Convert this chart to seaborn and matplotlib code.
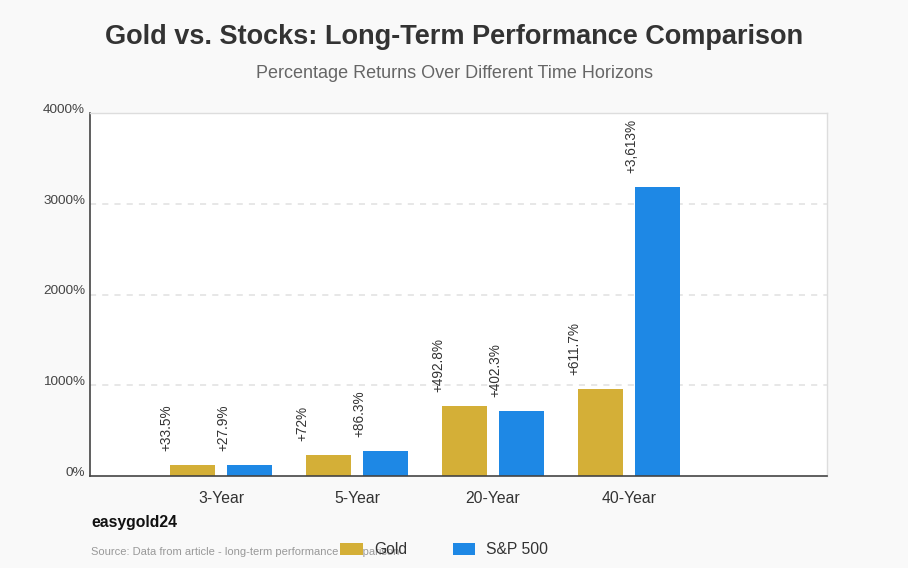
import matplotlib
matplotlib.use("Agg")
import matplotlib.pyplot as plt
import matplotlib.transforms as mtransforms
import seaborn as sns
import pandas as pd

# ---- data ----
periods = ["3-Year", "5-Year", "20-Year", "40-Year"]
series_names = ["Gold", "S&P 500"]
gold_bar = [120, 230, 770, 960]
sp_bar = [120, 275, 715, 3185]
gold_labels = ["+33.5%", "+72%", "+492.8%", "+611.7%"]
sp_labels = ["+27.9%", "+86.3%", "+402.3%", "+3,613%"]
y_ticks = [0, 1000, 2000, 3000, 4000]
y_tick_labels = ["0%", "1000%", "2000%", "3000%", "4000%"]
colors = ["#D4AF37", "#1E88E5"]

df = pd.DataFrame({
    "period": periods * 2,
    "series": [series_names[0]] * 4 + [series_names[1]] * 4,
    "value": gold_bar + sp_bar,
})

sns.set_theme(style="white")
plt.rcParams["font.family"] = ["Liberation Sans", "DejaVu Sans"]

W, H = 908, 568
fig = plt.figure(figsize=(W / 100, H / 100), dpi=100, facecolor="#f9f9f9")
ax = fig.add_axes([90 / W, 1 - 476 / H, 737 / W, 363 / H])
ax.set_facecolor("white")

sns.barplot(data=df, x="period", y="value", hue="series", order=periods,
            hue_order=series_names, palette=colors, width=0.84, gap=0.21,
            saturation=1, ax=ax, edgecolor="none", linewidth=0)

ax.set_xlim(-0.963, 4.456)
ax.set_ylim(0, 4000)
ax.set_xlabel("")
ax.set_ylabel("")
ax.set_yticks(y_ticks)
ax.set_yticklabels(y_tick_labels, fontsize=9.7, color="#444444")
ax.tick_params(axis="y", length=0, pad=3.5)
ax.tick_params(axis="x", length=0, pad=11, labelsize=11.3, labelcolor="#333333")
shift = mtransforms.ScaledTranslation(0, 4.5 / 100, fig.dpi_scale_trans)
for lab in ax.get_yticklabels():
    lab.set_transform(lab.get_transform() + shift)

# grid
for v in y_ticks[1:-1]:
    ax.axhline(v, color="#e0e0e0", lw=1.1, ls=(0, (4, 4)), zorder=0)

for s in ["left", "bottom"]:
    ax.spines[s].set_color("#444444")
    ax.spines[s].set_linewidth(1.2)
for s in ["top", "right"]:
    ax.spines[s].set_color("#dddddd")
    ax.spines[s].set_linewidth(1.0)

# value labels
for cont, labels in zip(ax.containers, [gold_labels, sp_labels]):
    for bar, txt in zip(cont, labels):
        xc = bar.get_x() + bar.get_width() / 2
        ax.annotate(txt, (xc, bar.get_height()), xytext=(-26, 14),
                    textcoords="offset pixels", rotation=90, ha="center",
                    va="bottom", fontsize=9.8, color="#333333")

# legend
handles, labels = ax.get_legend_handles_labels()
if ax.legend_ is not None:
    ax.legend_.remove()
fig.legend(handles, labels, loc="center left",
           bbox_to_anchor=(340 / W, 1 - 550 / H), ncol=2, frameon=False,
           fontsize=11.3, handlelength=1.46, handleheight=0.76,
           handletextpad=0.7, columnspacing=2.9, borderpad=0, borderaxespad=0,
           labelcolor="#333333")

# titles and notes
fig.text(0.5, 1 - 37 / H, "Gold vs. Stocks: Long-Term Performance Comparison",
         ha="center", va="center", fontsize=19.5, fontweight="bold", color="#333333")
fig.text(0.5, 1 - 73 / H, "Percentage Returns Over Different Time Horizons",
         ha="center", va="center", fontsize=13, color="#666666")
fig.text(91 / W, 1 - 523 / H, "easygold24", ha="left", va="center",
         fontsize=11.3, fontweight="bold", color="#111111")
fig.text(91 / W, 1 - 552 / H,
         "Source: Data from article - long-term performance comparison",
         ha="left", va="center", fontsize=8, color="#999999")

fig.savefig("out.png", dpi=100, facecolor=fig.get_facecolor())
